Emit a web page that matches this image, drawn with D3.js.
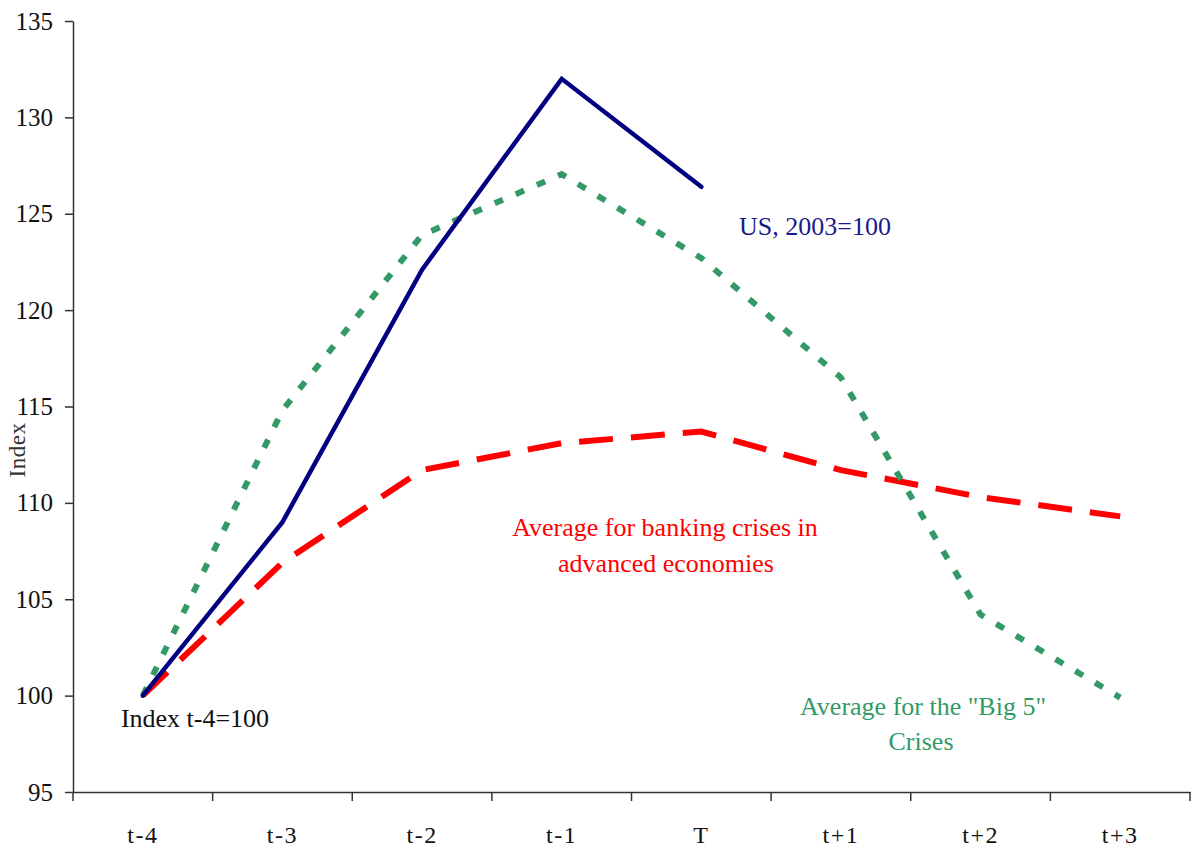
<!DOCTYPE html>
<html><head><meta charset="utf-8">
<script src="https://cdn.jsdelivr.net/npm/d3@7"></script>
<style>body{margin:0;background:#fff}svg{display:block}text{font-family:"Liberation Serif","Times New Roman",serif}</style>
</head><body><svg id="c" width="1192" height="848"></svg>
<script>
const categories = ["t-4","t-3","t-2","t-1","T","t+1","t+2","t+3"];
const usValues = [100, 109.0, 122.1, 132.0, 126.4];
const big5Values = [100, 114.8, 123.9, 127.05, 122.7, 116.5, 104.2, 99.9];
const bankingValues = [100, 106.9, 111.7, 113.1, 113.7, 111.7, 110.3, 109.3];
const yTicks = [95,100,105,110,115,120,125,130,135];

const svg = d3.select("#c");
const x = d3.scaleBand().domain(categories).range([73,1190]);
const y = d3.scaleLinear().domain([95,135]).range([792,21]);
const cx = c => x(c) + x.bandwidth()/2;

// y axis
const ya = svg.append("g").attr("transform","translate(73,0)")
  .call(d3.axisLeft(y).tickValues(yTicks).tickSize(8).tickSizeOuter(0).tickPadding(12));
ya.attr("font-size",null).attr("font-family",null);
ya.selectAll("text").attr("font-size",25).attr("fill","#111").style("font-family","Liberation Serif");
ya.selectAll("line,path").attr("stroke","#333").attr("stroke-width",1.5);

// x axis
const xa = svg.append("g").attr("transform","translate(0,792)")
  .call(d3.axisBottom(x).tickSize(0).tickPadding(34));
xa.attr("font-size",null).attr("font-family",null);
xa.selectAll("text").attr("font-size",24).attr("letter-spacing","1.5px").attr("fill","#111").style("font-family","Liberation Serif");
xa.select("path").attr("stroke","#333").attr("stroke-width",1.5);
const bounds = categories.map(c => x(c)).concat([x.range()[1]]);
xa.selectAll("line.bt").data(bounds).enter().append("line").attr("class","bt")
  .attr("x1",d=>d).attr("x2",d=>d).attr("y1",0).attr("y2",9)
  .attr("stroke","#333").attr("stroke-width",1.5);

// y title
svg.append("text").attr("transform","translate(25,450) rotate(-90)").attr("text-anchor","middle")
  .attr("font-size",23).attr("letter-spacing","0.5px").attr("fill","#333").text("Index");

const line = d3.line().x((d,i)=>cx(categories[i])).y(d=>y(d));

svg.append("path").datum(bankingValues).attr("d",line).attr("fill","none")
  .attr("stroke","#ff0000").attr("stroke-width",6).attr("stroke-dasharray","34,18");
svg.append("path").datum(big5Values).attr("d",line).attr("fill","none")
  .attr("stroke","#339966").attr("stroke-width",6).attr("stroke-dasharray","9,14");
svg.append("path").datum(usValues).attr("d",line).attr("fill","none")
  .attr("stroke","#000080").attr("stroke-width",4.5).attr("stroke-linecap","round");

// annotations
const ann = (t,xp,yp,col) => svg.append("text").attr("x",xp).attr("y",yp).attr("text-anchor","middle")
  .attr("font-size",26).attr("fill",col).text(t);
ann("US, 2003=100",815,235,"#1a1a8c");
ann("Average for banking crises in",665,536,"#ff0000");
ann("advanced economies",666,572,"#ff0000");
ann("Index t-4=100",195,727,"#111");
ann("Average for the \"Big 5\"",923,715,"#339966");
ann("Crises",921,750,"#339966");
</script></body></html>
